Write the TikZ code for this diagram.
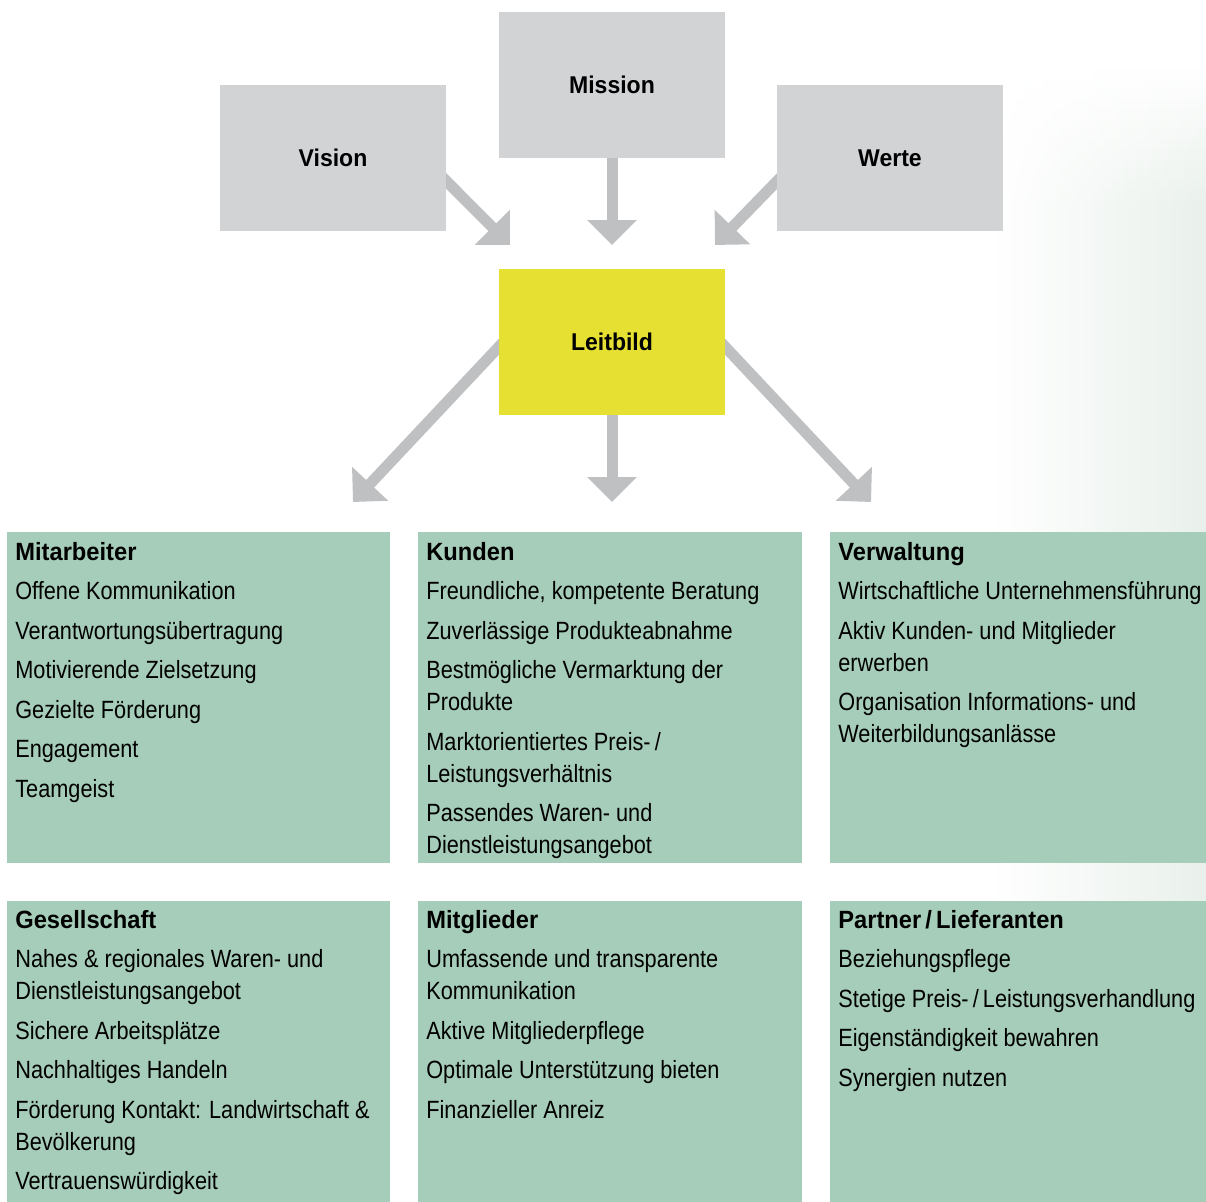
\documentclass[tikz,border=0pt]{standalone}
\usepackage{fontspec}
\setmainfont{Liberation Sans}[FakeStretch=0.87,BoldFeatures={FakeStretch=0.95}]
\usetikzlibrary{arrows.meta,calc}
\definecolor{boxgray}{HTML}{D2D3D5}
\definecolor{arrowgray}{HTML}{BFC0C2}
\definecolor{leityellow}{HTML}{E6E033}
\definecolor{listgreen}{HTML}{A6CDB9}
\definecolor{sidetint}{HTML}{E9F0EB}
\pgfdeclarelayer{backtint}
\pgfdeclarelayer{arrows}
\pgfsetlayers{backtint,arrows,main}
\newcommand\listfont{\fontsize{14.2pt}{18.2pt}\selectfont}
\newcommand\gap{\\[0.15cm]}

\begin{document}
\begin{tikzpicture}[x=0.02cm,y=-0.02cm,
	topbox/.style={rectangle,fill=boxgray,minimum width=4.52cm,minimum height=2.92cm,inner sep=0pt,font=\fontsize{13.8pt}{18pt}\selectfont\bfseries},
	listbox/.style={rectangle,fill=listgreen,anchor=north west,inner sep=0pt},
	listtext/.style={anchor=north west,inner sep=0pt,align=left,font=\listfont},
	bigarrow/.style={line width=0.22cm,draw=arrowgray,-{Triangle[width=0.96cm,length=0.5cm]}}]

	\useasboundingbox (0,0) rectangle (1206,1202);

	% faint tint on the right side
	\begin{pgfonlayer}{backtint}
	\fill[left color=white,right color=sidetint] (990,200) rectangle (1206,1202);
	\foreach \i in {0,...,13}{
		\pgfmathtruncatemacro\p{100*\i/14}
		\fill[left color=white,right color=sidetint!\p!white] (990,60+10*\i) rectangle (1206,70.5+10*\i);
	}
	\end{pgfonlayer}

	\node[topbox] (mission) at (612,85) {Mission};
	\node[topbox] (vision) at (333,158) {Vision};
	\node[topbox] (werte) at (890,158) {Werte};
	\node[topbox,fill=leityellow] (leitbild) at (612,342) {Leitbild};

	\coordinate (tipv) at (510,245);
	\coordinate (tipm) at (612,245);
	\coordinate (tipw) at (715,245);
	\coordinate (tipl) at (353,502);
	\coordinate (tipc) at (612,502);
	\coordinate (tipr) at (871,502);

	\begin{pgfonlayer}{arrows}
	\draw[bigarrow] ($(vision.east)+(-16,7)$) -- (tipv);
	\draw[bigarrow] (mission.south) -- (tipm);
	\draw[bigarrow] ($(werte.west)+(16,7)$) -- (tipw);
	\draw[bigarrow] ($(leitbild.west)+(16,-12)$) -- (tipl);
	\draw[bigarrow] (leitbild.south) -- (tipc);
	\draw[bigarrow] ($(leitbild.east)+(-16,-12)$) -- (tipr);
	\end{pgfonlayer}

	% upper row
	\node[listbox,minimum width=7.66cm,minimum height=6.62cm] (mitarbeiter) at (7,532) {};
	\node[listbox,minimum width=7.68cm,minimum height=6.62cm] (kunden) at (418,532) {};
	\node[listbox,minimum width=7.52cm,minimum height=6.62cm] (verwaltung) at (830,532) {};

	\node[listtext] (mitarbeitertext) at (15,542) {\textbf{Mitarbeiter}\gap
		Offene Kommunikation\gap
		Verantwortungsübertragung\gap
		Motivierende Zielsetzung\gap
		Gezielte Förderung\gap
		Engagement\gap
		Teamgeist};
	\node[listtext] (kundentext) at (426,542) {\textbf{Kunden}\gap
		Freundliche, kompetente Beratung\gap
		Zuverlässige Produkteabnahme\gap
		Bestmögliche Vermarktung der\\
		Produkte\gap
		Marktorientiertes Preis-\,/\\
		Leistungsverhältnis\gap
		Passendes Waren- und\\
		Dienstleistungsangebot};
	\node[listtext] (verwaltungtext) at (838,542) {\textbf{Verwaltung}\gap
		Wirtschaftliche Unternehmensführung\gap
		Aktiv Kunden- und Mitglieder\\
		erwerben\gap
		Organisation Informations- und\\
		Weiterbildungsanlässe};

	% lower row
	\node[listbox,minimum width=7.66cm,minimum height=6.02cm] (gesellschaft) at (7,901) {};
	\node[listbox,minimum width=7.68cm,minimum height=6.02cm] (mitglieder) at (418,901) {};
	\node[listbox,minimum width=7.52cm,minimum height=6.02cm] (partner) at (830,901) {};

	\node[listtext] (gesellschafttext) at (15,910) {\textbf{Gesellschaft}\gap
		Nahes \& regionales Waren- und\\
		Dienstleistungsangebot\gap
		Sichere Arbeitsplätze\gap
		Nachhaltiges Handeln\gap
		Förderung Kontakt: Landwirtschaft \&\\
		Bevölkerung\gap
		Vertrauenswürdigkeit};
	\node[listtext] (mitgliedertext) at (426,910) {\textbf{Mitglieder}\gap
		Umfassende und transparente\\
		Kommunikation\gap
		Aktive Mitgliederpflege\gap
		Optimale Unterstützung bieten\gap
		Finanzieller Anreiz};
	\node[listtext] (partnertext) at (838,910) {\textbf{Partner\,/\,Lieferanten}\gap
		Beziehungspflege\gap
		Stetige Preis-\,/\,Leistungsverhandlung\gap
		Eigenständigkeit bewahren\gap
		Synergien nutzen};

\end{tikzpicture}
\end{document}
